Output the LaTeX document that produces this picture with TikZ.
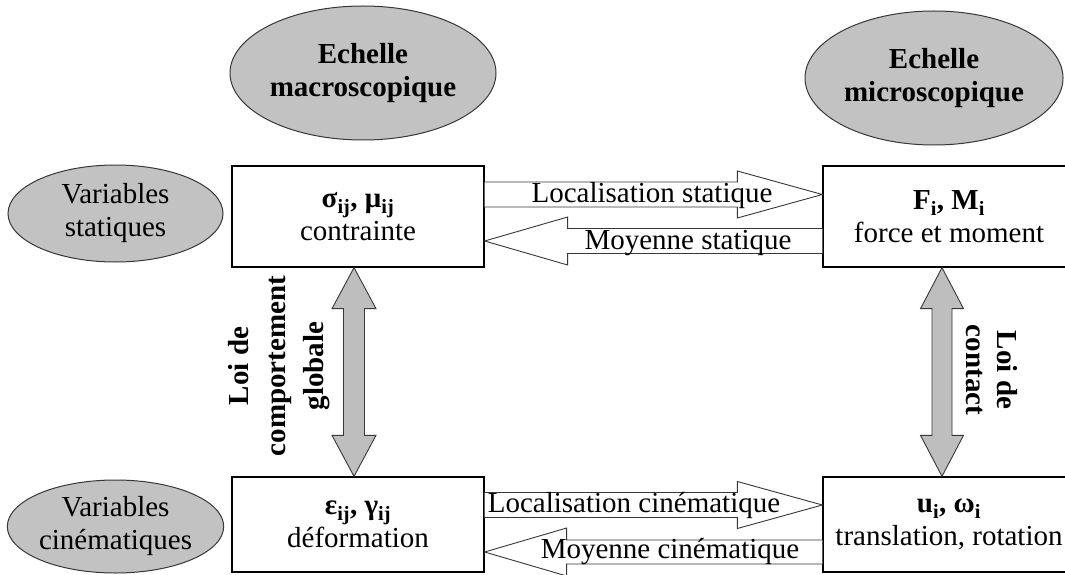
\documentclass[tikz,border=0pt]{standalone}
\usepackage{fontspec}
\setmainfont{Liberation Serif}
\usetikzlibrary{shapes.geometric,calc}
\definecolor{ellgray}{RGB}{194,194,194}
\definecolor{arrgray}{RGB}{190,190,190}
\definecolor{edgegray}{RGB}{55,55,55}
\begin{document}
\begin{tikzpicture}[x=1pt,y=-1pt,
  ell/.style={ellipse, draw=edgegray, fill=ellgray, line width=1pt, inner sep=0pt, align=center},
  ellbold/.style={ell, font=\bfseries\fontsize{29}{33}\selectfont},
  ellreg/.style={ell, font=\fontsize{29}{33}\selectfont},
  box/.style={draw=black, line width=1.3pt, fill=white, minimum width=252pt, inner sep=0pt, align=center, font=\fontsize{29}{32.5}\selectfont},
  harrow/.style={draw=edgegray, fill=white, line width=0.9pt, line join=miter},
  varrow/.style={draw=edgegray, fill=arrgray, line width=0.9pt, line join=miter},
  lbl/.style={font=\fontsize{29}{30}\selectfont, inner sep=0pt},
  vlbl/.style={font=\bfseries\fontsize{29}{37.5}\selectfont, align=center, inner sep=0pt}
]
\useasboundingbox (0,0) rectangle (1065,575);

% ellipses
\node[ellbold, minimum width=266pt, minimum height=134pt] (macro) at (363,73) {Echelle\\macroscopique};
\node[ellbold, minimum width=258pt, minimum height=134pt] (micro) at (934,78) {Echelle\\microscopique};
\node[ellreg, minimum width=215pt, minimum height=97pt] (vstat) at (115.5,213.5) {Variables\\statiques};
\node[ellreg, minimum width=215pt, minimum height=93pt] (vcin) at (115.5,526.5) {Variables\\cinématiques};

% boxes
\node[box, minimum height=101pt] (sigma) at (358,216.5) {\textbf{σ\textsubscript{ij}, μ\textsubscript{ij}}\\contrainte};
\node[box, minimum height=101pt] (F) at (949,216.5) {\textbf{F\textsubscript{i}, M\textsubscript{i}}\\force et moment};
\node[box, minimum height=95pt] (eps) at (358,524.5) {\textbf{ε\textsubscript{ij}, γ\textsubscript{ij}}\\déformation};
\node[box, minimum height=95pt] (u) at (949,524.5) {\textbf{u\textsubscript{i}, ω\textsubscript{i}}\\translation, rotation};

% top horizontal arrows
\coordinate (s1) at ($(sigma.east)+(0,-22)$);
\coordinate (t1) at ($(F.west)+(0,-22)$);
\draw[harrow] ($(s1)+(0,-12.5)$) -- ($(t1)+(-85,-12.5)$) -- ($(t1)+(-85,-23.5)$) -- (t1) -- ($(t1)+(-85,23.5)$) -- ($(t1)+(-85,12.5)$) -- ($(s1)+(0,12.5)$);
\coordinate (s2) at ($(F.west)+(0,24.5)$);
\coordinate (t2) at ($(sigma.east)+(0,24.5)$);
\draw[harrow] ($(s2)+(0,-12.5)$) -- ($(t2)+(83,-12.5)$) -- ($(t2)+(83,-24)$) -- (t2) -- ($(t2)+(83,24)$) -- ($(t2)+(83,12.5)$) -- ($(s2)+(0,12.5)$);

% bottom horizontal arrows
\coordinate (s3) at ($(eps.east)+(0,-19.5)$);
\coordinate (t3) at ($(u.west)+(0,-19.5)$);
\draw[harrow] ($(s3)+(0,-12.5)$) -- ($(t3)+(-85,-12.5)$) -- ($(t3)+(-85,-23.5)$) -- (t3) -- ($(t3)+(-85,23.5)$) -- ($(t3)+(-85,12.5)$) -- ($(s3)+(0,12.5)$);
\coordinate (s4) at ($(u.west)+(0,27.5)$);
\coordinate (t4) at ($(eps.east)+(0,27.5)$);
\draw[harrow] ($(s4)+(0,-12)$) -- ($(t4)+(82,-12)$) -- ($(t4)+(82,-24)$) -- (t4) -- ($(t4)+(82,24)$) -- ($(t4)+(82,12)$) -- ($(s4)+(0,12)$);

% arrow labels
\node[lbl] (l1) at (652,196) {Localisation statique};
\node[lbl] (l2) at (688,243) {Moyenne statique};
\node[lbl] (l3) at (634,505) {Localisation cinématique};
\node[lbl] (l4) at (670,552) {Moyenne cinématique};

% vertical double arrows
\coordinate (d1) at ($(sigma.south)+(-4,0)$);
\coordinate (d2) at ($(eps.north)+(-4,0)$);
\draw[varrow] (d1) -- ($(d1)+(22,41)$) -- ($(d1)+(10.5,41)$) -- ($(d2)+(10.5,-41)$) -- ($(d2)+(22,-41)$) -- (d2) -- ($(d2)+(-22,-41)$) -- ($(d2)+(-10.5,-41)$) -- ($(d1)+(-10.5,41)$) -- ($(d1)+(-22,41)$) -- cycle;
\coordinate (d3) at ($(F.south)+(-7,0)$);
\coordinate (d4) at ($(u.north)+(-7,0)$);
\draw[varrow] (d3) -- ($(d3)+(21.5,41)$) -- ($(d3)+(10,41)$) -- ($(d4)+(10,-41)$) -- ($(d4)+(21.5,-41)$) -- (d4) -- ($(d4)+(-21.5,-41)$) -- ($(d4)+(-10,-41)$) -- ($(d3)+(-10,41)$) -- ($(d3)+(-21.5,41)$) -- cycle;

% vertical labels
\node[vlbl, rotate=90] (loiG) at (279,366) {Loi de\\comportement\\globale};
\node[vlbl, rotate=-90, font=\bfseries\fontsize{29}{31}\selectfont] (loiC) at (992,370) {Loi de\\contact};
\end{tikzpicture}
\end{document}
